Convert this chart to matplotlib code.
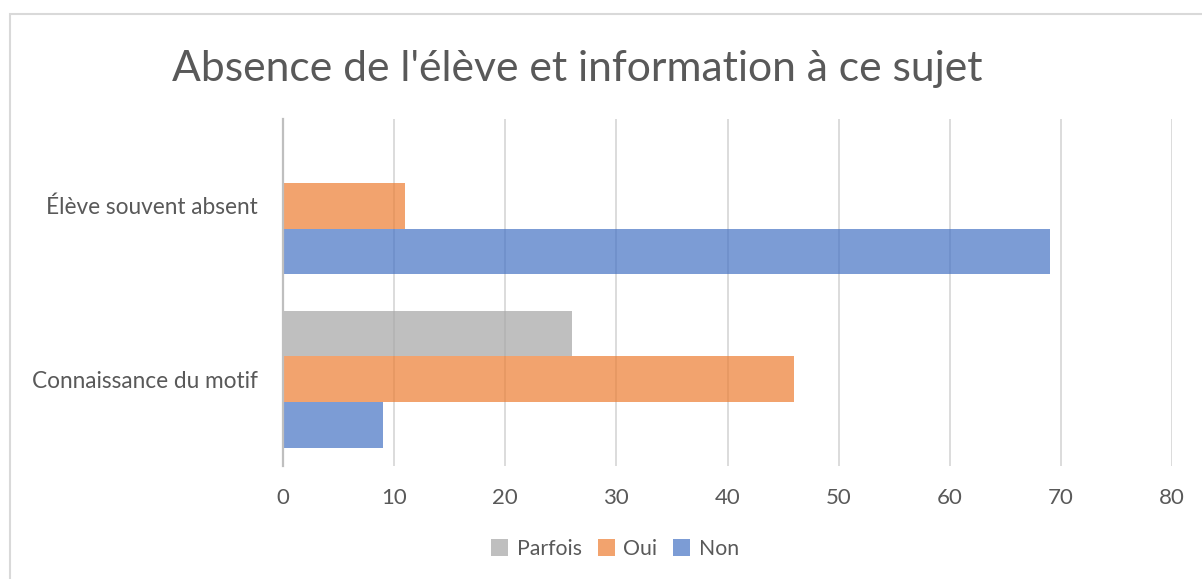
import numpy as np
import matplotlib.pyplot as plt
from matplotlib.patches import Rectangle

# data
categories = ["Élève souvent absent", "Connaissance du motif"]
series = ["Parfois", "Oui", "Non"]
parfois = [0, 26]
oui = [11, 46]
non = [69, 9]

colors = {"Parfois": "#A5A5A5", "Oui": "#ED7D31", "Non": "#4472C4"}
text_color = "#595959"

plt.rcParams['font.family'] = ['Lato', 'DejaVu Sans']

fig = plt.figure(figsize=(12.02, 5.79), dpi=100)
ax = fig.add_axes([283 / 1202, 1 - 466 / 579, 889 / 1202, 347 / 579])

y = np.arange(len(categories))
h = 0.263
for offset, name, vals in zip([-h, 0, h], series, [parfois, oui, non]):
    ax.barh(y + offset, vals, height=h, color=colors[name], alpha=0.7,
            label=name, zorder=2, linewidth=0)

ax.set_xlim(0, 80)
ax.set_ylim(1.5, -0.5)
ax.set_xticks(np.arange(0, 81, 10))
ax.set_yticks(y)
ax.set_yticklabels(categories)
ax.tick_params(axis='both', length=0, labelsize=16, labelcolor=text_color)
ax.tick_params(axis='y', labelsize=16.3, pad=18)
ax.tick_params(axis='x', pad=16)
ax.grid(axis='x', color='#D9D9D9', linewidth=1.3, zorder=0)
ax.set_axisbelow(True)
for s in ['top', 'right', 'bottom']:
    ax.spines[s].set_visible(False)
ax.spines['left'].set_color('#BFBFBF')
ax.spines['left'].set_linewidth(1.6)
ax.spines['left'].set_zorder(3)

fig.text(577 / 1202, 1 - 69 / 579, "Absence de l'élève et information à ce sujet",
         ha='center', va='center', fontsize=30.7, color=text_color)

ax.legend(loc='center', bbox_to_anchor=(615 / 1202, 1 - 549 / 579),
          bbox_transform=fig.transFigure, ncol=3, frameon=False,
          fontsize=15.3, labelcolor=text_color, handlelength=0.8,
          handleheight=0.8, handletextpad=0.4, columnspacing=0.75)

# outer chart border (only left and top edges are visible)
fig.patches.append(Rectangle((9.5 / 1202, -0.5), 2, 1.5 - 13.5 / 579,
                             transform=fig.transFigure, fill=False,
                             edgecolor='#D9D9D9', linewidth=1.5))

fig.savefig("out.png", dpi=100)
